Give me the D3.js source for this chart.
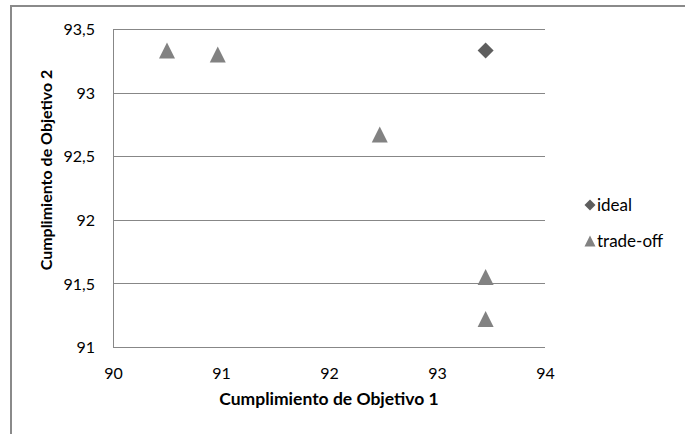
<!DOCTYPE html>
<html>
<head>
<meta charset="utf-8">
<script src="https://cdn.jsdelivr.net/npm/d3@7"></script>
<style>
  html, body { margin: 0; padding: 0; background: #fff; }
  svg { display: block; }
  text { font-family: Lato, "Open Sans", sans-serif; fill: #000; }
</style>
</head>
<body>
<svg id="chart" width="685" height="434"></svg>
<script>
// Series: ideal point and trade-off solutions (Objetivo 1, Objetivo 2)
const idealX = [93.45];
const idealY = [93.33];
const tradeX = [90.50, 90.97, 92.47, 93.45, 93.45];
const tradeY = [93.33, 93.30, 92.67, 91.55, 91.22];

const xTicks = [90, 91, 92, 93, 94];
const xTickLabels = ["90", "91", "92", "93", "94"];
const yTicks = [91, 91.5, 92, 92.5, 93, 93.5];
const yTickLabels = ["91", "91,5", "92", "92,5", "93", "93,5"];

const seriesNames = ["ideal", "trade-off"];
const xTitle = "Cumplimiento de Objetivo 1";
const yTitle = "Cumplimiento de Objetivo 2";

const svg = d3.select("#chart");
const W = 685, H = 434;

// chart area border
svg.append("path")
  .attr("d", `M11,${H + 2} L11,6 L${W + 2},6`)
  .attr("fill", "none")
  .attr("stroke", "#8a8a8a")
  .attr("stroke-width", 2);

const plot = { left: 113, right: 545, top: 29, bottom: 347 };

const x = d3.scaleLinear().domain([90, 94]).range([plot.left, plot.right]);
const y = d3.scaleLinear().domain([91, 93.5]).range([plot.bottom, plot.top]);

// horizontal gridlines
svg.append("g")
  .selectAll("line")
  .data(yTicks)
  .join("line")
  .attr("x1", plot.left).attr("x2", plot.right)
  .attr("y1", d => Math.round(y(d)) + 0.5).attr("y2", d => Math.round(y(d)) + 0.5)
  .attr("stroke", "#878787")
  .attr("stroke-width", 1);

// vertical axis line
svg.append("line")
  .attr("x1", plot.left + 0.5).attr("x2", plot.left + 0.5)
  .attr("y1", plot.top).attr("y2", plot.bottom)
  .attr("stroke", "#878787");

// axes (labels only)
const xAxis = d3.axisBottom(x).tickValues(xTicks)
  .tickFormat((d, i) => xTickLabels[i]).tickSize(0).tickPadding(0);
const gx = svg.append("g").attr("transform", `translate(0,${plot.bottom})`).call(xAxis);
gx.select(".domain").remove();
gx.selectAll("text")
  .attr("y", 32).attr("dy", null)
  .style("font-size", "16px")
  .style("font-family", "Lato, 'Open Sans', sans-serif")
  .attr("fill", "#000");

const yAxis = d3.axisLeft(y).tickValues(yTicks)
  .tickFormat((d, i) => yTickLabels[i]).tickSize(0).tickPadding(0);
const gy = svg.append("g").attr("transform", `translate(${plot.left},0)`).call(yAxis);
gy.select(".domain").remove();
gy.selectAll("text")
  .attr("x", -18).attr("dy", "0.35em")
  .style("font-size", "16px")
  .style("font-family", "Lato, 'Open Sans', sans-serif")
  .attr("fill", "#000");

// axis titles
svg.append("text")
  .attr("x", (plot.left + plot.right) / 2)
  .attr("y", 405)
  .attr("text-anchor", "middle")
  .style("font-size", "17.5px")
  .style("font-weight", "bold")
  .text(xTitle);

svg.append("text")
  .attr("transform", "translate(52,170) rotate(-90)")
  .attr("text-anchor", "middle")
  .style("font-size", "16px")
  .style("font-weight", "bold")
  .text(yTitle);

// marker shapes: triangle centred on its bounding box, and a diamond
const boxTriangle = {
  draw(ctx, size) {
    const s = Math.sqrt(size);
    ctx.moveTo(0, -s / 2);
    ctx.lineTo(s / 2, s / 2);
    ctx.lineTo(-s / 2, s / 2);
    ctx.closePath();
  }
};
const diamond = {
  draw(ctx, size) {
    const s = Math.sqrt(size) / 2;
    ctx.moveTo(0, -s);
    ctx.lineTo(s, 0);
    ctx.lineTo(0, s);
    ctx.lineTo(-s, 0);
    ctx.closePath();
  }
};

const triColor = "#828282";
const diaColor = "#5e5e5e";

svg.append("g")
  .selectAll("path")
  .data(d3.zip(tradeX, tradeY))
  .join("path")
  .attr("transform", d => `translate(${x(d[0])},${y(d[1])})`)
  .attr("d", d3.symbol().type(boxTriangle).size(16 * 16))
  .attr("fill", triColor);

svg.append("g")
  .selectAll("path")
  .data(d3.zip(idealX, idealY))
  .join("path")
  .attr("transform", d => `translate(${x(d[0])},${y(d[1])})`)
  .attr("d", d3.symbol().type(diamond).size(16 * 16))
  .attr("fill", diaColor);

// legend
const legend = svg.append("g");
const legendItems = [
  { name: seriesNames[0], type: diamond, color: diaColor, size: 11 * 11, cy: 205 },
  { name: seriesNames[1], type: boxTriangle, color: triColor, size: 11 * 11, cy: 241 }
];
legend.selectAll("path")
  .data(legendItems)
  .join("path")
  .attr("transform", d => `translate(590,${d.cy})`)
  .attr("d", d => d3.symbol().type(d.type).size(d.size)())
  .attr("fill", d => d.color);
legend.selectAll("text")
  .data(legendItems)
  .join("text")
  .attr("x", 597)
  .attr("y", d => d.cy)
  .attr("dy", "0.35em")
  .style("font-size", "17px")
  .text(d => d.name);
</script>
</body>
</html>
